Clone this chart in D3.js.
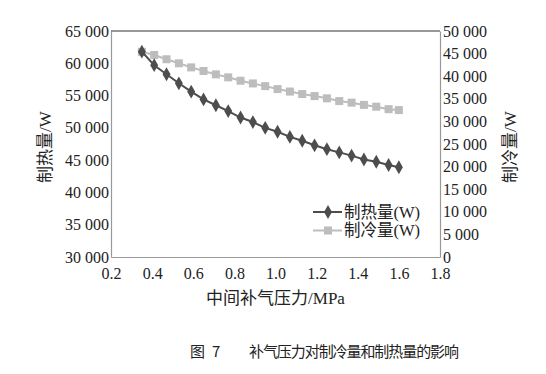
<!DOCTYPE html>
<html>
<head>
<meta charset="utf-8">
<script src="https://d3js.org/d3.v7.min.js"></script>
<style>
  body { margin: 0; background: #fff; }
  text { font-family: "Liberation Serif", "Times New Roman", "DejaVu Serif", "Noto Sans CJK SC", serif; fill: #222; }
</style>
</head>
<body>
<div id="visu"></div>
<script>

// Données
var pression = [0.35, 0.41, 0.47, 0.53, 0.59, 0.65, 0.71, 0.77, 0.83, 0.89, 0.95,
                1.01, 1.07, 1.13, 1.19, 1.25, 1.31, 1.37, 1.43, 1.49, 1.55, 1.60];
var chaud = [61800, 59700, 58300, 56900, 55600, 54400, 53500, 52600, 51600, 50900, 50000,
             49400, 48600, 48000, 47300, 46700, 46200, 45700, 45100, 44750, 44250, 43900];
var froid = [45400, 44700, 43750, 42850, 41950, 41150, 40400, 39750, 39000, 38400, 37800,
             37150, 36600, 36050, 35600, 35100, 34500, 34150, 33650, 33250, 32700, 32500];
var ticksX = [0.2, 0.4, 0.6, 0.8, 1.0, 1.2, 1.4, 1.6, 1.8];
var ticksG = [30000, 35000, 40000, 45000, 50000, 55000, 60000, 65000];
var ticksD = [0, 5000, 10000, 15000, 20000, 25000, 30000, 35000, 40000, 45000, 50000];

var largeur = 546, hauteur = 374;
var gauche = 111, droite = 440, haut = 31, bas = 257;
var police = "'Liberation Serif', 'Times New Roman', 'DejaVu Serif', 'Noto Sans CJK SC', serif";

var svg = d3.select("#visu").append("svg")
  .attr("width", largeur)
  .attr("height", hauteur);

var x = d3.scaleLinear().domain([0.2, 1.8]).range([gauche, droite]);
var yG = d3.scaleLinear().domain([30000, 65000]).range([bas, haut]);
var yD = d3.scaleLinear().domain([0, 50000]).range([bas, haut]);

var fmt = function(v) {
  var s = String(v);
  if (s.length > 3) s = s.slice(0, s.length - 3) + " " + s.slice(-3);
  return s;
};

// axes
var axeX = svg.append("g").attr("transform", "translate(0," + bas + ")")
  .call(d3.axisBottom(x).tickValues(ticksX).tickSize(0).tickPadding(11)
        .tickFormat(d3.format(".1f")));
var axeG = svg.append("g").attr("transform", "translate(" + gauche + ",0)")
  .call(d3.axisLeft(yG).tickValues(ticksG).tickSize(0).tickPadding(2).tickFormat(fmt));
var axeD = svg.append("g").attr("transform", "translate(" + droite + ",0)")
  .call(d3.axisRight(yD).tickValues(ticksD).tickSize(0).tickPadding(3).tickFormat(fmt));

[axeX, axeG, axeD].forEach(function(a) {
  a.attr("font-family", null).attr("font-size", null);
  a.select(".domain").attr("stroke", "#999").attr("stroke-width", 1.2);
  a.selectAll("text").attr("fill", "#222")
   .style("font-family", police).style("font-size", "16px");
});

// bordure du haut
svg.append("line")
  .attr("x1", gauche).attr("x2", droite).attr("y1", haut).attr("y2", haut)
  .attr("stroke", "#333").attr("stroke-width", 1.2);

// courbes
var ligneC = d3.line().x((d, i) => x(pression[i])).y(d => yG(d));
var ligneF = d3.line().x((d, i) => x(pression[i])).y(d => yD(d));

svg.append("path").attr("d", ligneF(froid))
  .attr("fill", "none").attr("stroke", "#bdbdbd").attr("stroke-width", 2);
svg.selectAll(".carre").data(froid).enter().append("rect")
  .attr("class", "carre")
  .attr("x", (d, i) => x(pression[i]) - 4)
  .attr("y", d => yD(d) - 4)
  .attr("width", 8).attr("height", 8)
  .attr("fill", "#bdbdbd");

svg.append("path").attr("d", ligneC(chaud))
  .attr("fill", "none").attr("stroke", "#4d4d4d").attr("stroke-width", 2);
var losange = d3.symbol().type(d3.symbolDiamond).size(55);
svg.selectAll(".losange").data(chaud).enter().append("path")
  .attr("class", "losange")
  .attr("d", losange)
  .attr("transform", (d, i) => "translate(" + x(pression[i]) + "," + yG(d) + ")")
  .attr("fill", "#4d4d4d");

// légende
var legende = [
  {nom: "制热量(W)", couleur: "#4d4d4d", forme: "losange"},
  {nom: "制冷量(W)", couleur: "#bdbdbd", forme: "carre"}
];
var lg = svg.selectAll(".leg").data(legende).enter().append("g")
  .attr("class", "leg")
  .attr("transform", (d, i) => "translate(313," + (212 + i * 18.5) + ")");
lg.append("line").attr("x1", 0).attr("x2", 29).attr("y1", 0).attr("y2", 0)
  .attr("stroke", d => d.couleur).attr("stroke-width", 2);
lg.filter(d => d.forme == "losange").append("path")
  .attr("d", losange).attr("transform", "translate(15,0)").attr("fill", d => d.couleur);
lg.filter(d => d.forme == "carre").append("rect")
  .attr("x", 11).attr("y", -4).attr("width", 8).attr("height", 8).attr("fill", d => d.couleur);
lg.append("text").attr("x", 31).attr("y", 0).attr("dy", "0.35em")
  .style("font-size", "16.5px").text(d => d.nom);

// titres des axes
svg.append("text")
  .attr("x", (gauche + droite) / 2).attr("y", 298).attr("dy", "0.35em")
  .attr("text-anchor", "middle").style("font-size", "17px")
  .text("中间补气压力/MPa");
svg.append("text")
  .attr("transform", "translate(45,147) rotate(-90)").attr("dy", "0.35em")
  .attr("text-anchor", "middle").style("font-size", "17px")
  .text("制热量/W");
svg.append("text")
  .attr("transform", "translate(510,147) rotate(-90)").attr("dy", "0.35em")
  .attr("text-anchor", "middle").style("font-size", "17px")
  .text("制冷量/W");

// légende de la figure
var cap = svg.append("g")
  .attr("font-family", "Noto Sans CJK SC, sans-serif").attr("font-size", 15);
cap.append("text").attr("x", 190).attr("y", 352).attr("dy", "0.35em")
  .style("font-family", "'Noto Sans CJK SC', sans-serif").text("图");
cap.append("text").attr("x", 212).attr("y", 352).attr("dy", "0.35em")
  .style("font-family", "'Noto Sans CJK SC', sans-serif").text("7");
cap.append("text").attr("x", 249).attr("y", 352).attr("dy", "0.35em")
  .style("font-family", "'Noto Sans CJK SC', sans-serif")
  .attr("textLength", 210).text("补气压力对制冷量和制热量的影响");

</script>
</body>
</html>
